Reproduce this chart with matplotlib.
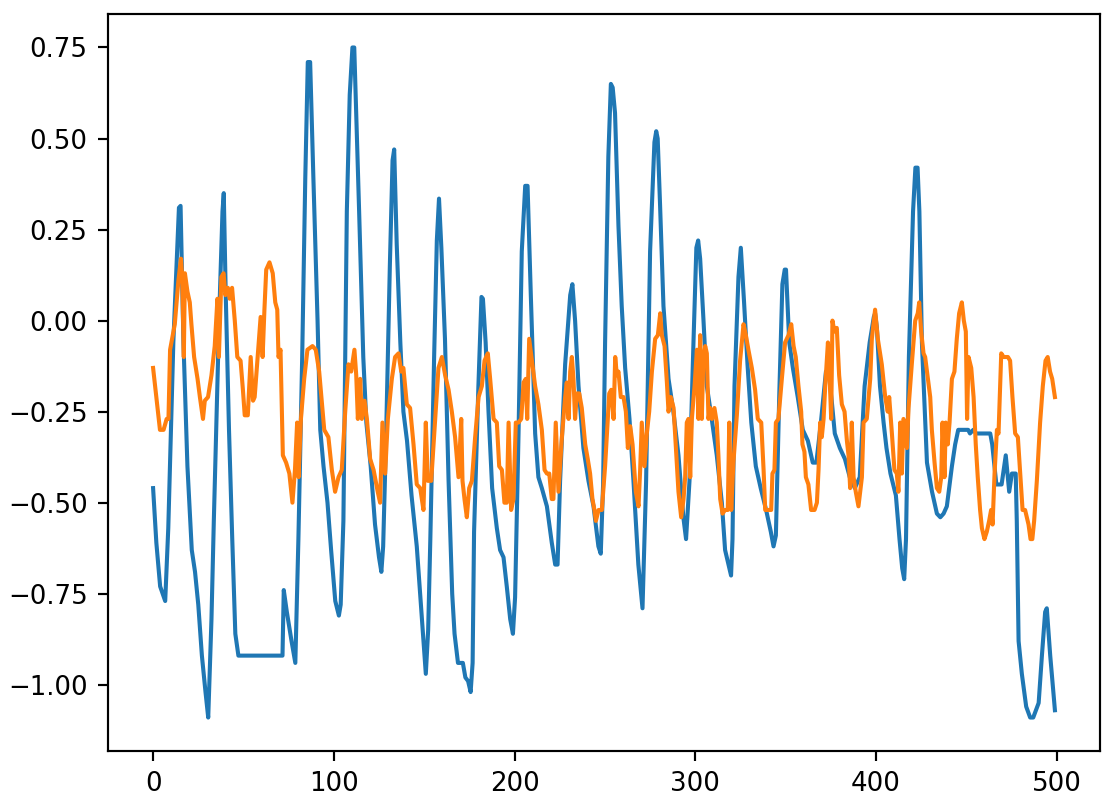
import matplotlib.pyplot as plt

blue_x = [0, 1.8, 3.9, 6.7, 8.4, 11.2, 14.3, 15.2, 16.8, 19, 21.4, 23.2, 25, 27, 29, 30.5, 32.3, 33.6, 36.5, 38.4,
          39.1, 40.2, 42, 43.8, 45.5, 47.2, 71.6, 72.3, 74, 76.6, 78.7, 80.4, 82.5, 84.2, 85.6, 86.9, 88.7, 91, 92.5,
          94.3, 96.5, 98.5, 100.8, 102.8, 103.8, 105.3, 107.2, 108.8, 110.3, 111.3, 112.5, 114, 116.3, 118, 120.4,
          122.8, 125, 126.3, 127.3, 129, 131, 132.5, 133.4, 134.8, 136.8, 138.5, 140.5, 143, 145.9, 148.3, 150.9,
          152.2, 153.4, 155.5, 157, 158.2, 159.5, 161.5, 163.5, 165.5, 166.8, 168.7, 171.4, 172.8, 174.3, 175.7,
          176.8, 177.6, 180, 181.7, 182.5, 184, 185.6, 187.6, 190.2, 192, 193.9, 195.7, 197.6, 199.1, 200.3, 202.2,
          204, 205.9, 207.2, 209, 211.4, 213.2, 215.1, 217.9, 220.6, 222.5, 223.8, 225.2, 228, 230.8, 232, 233.5,
          235.4, 238.1, 240.9, 243.7, 246.4, 247.7, 249, 250.1, 251.9, 253.3, 254.3, 255.6, 257.5, 259.3, 261.2,
          263.6, 265.8, 268.5, 270.8, 272.8, 275, 277.4, 278.4, 279.2, 280.5, 282.4, 285.2, 287.9, 290.7, 293.4,
          294.9, 296.8, 299, 300.6, 301.6, 302.7, 304.5, 306.4, 309.1, 311.9, 314.7, 316.5, 318.4, 319.8, 320.6,
          321.7, 323.9, 325.2, 327, 328.9, 331, 333.5, 336.2, 339.2, 341.8, 343.3, 344.6, 346.5, 348.2, 349.5,
          350.2, 352, 354, 356.7, 359.5, 362.3, 365, 367, 369.5, 372.3, 373.8, 375.5, 377.2, 380, 382.8, 385.5,
          388.3, 391, 393.7, 396.5, 398.8, 399.5, 400.5, 402.2, 404.2, 405.8, 408, 411, 413, 414.5, 415.6, 416.6,
          418.2, 420.5, 421.8, 423, 424, 425.4, 428.2, 431, 433.7, 435.6, 437.4, 439.2, 442, 443.8, 445.5, 451,
          452, 453.8, 455.5, 463.2, 464.3, 466.6, 469.5, 471.8, 473.7, 475.2, 477.3, 477.9, 478.9, 480.7, 483.1,
          485.3, 487, 490, 491.8, 493.6, 494.5, 496.4, 499]
blue_y = [-0.46, -0.61, -0.73, -0.77, -0.57, -0.06, 0.31, 0.315, -0.06, -0.40, -0.63, -0.69, -0.78, -0.92, -1.02,
          -1.09, -0.82, -0.55, 0.0, 0.30, 0.35, 0.07, -0.30, -0.60, -0.86, -0.92, -0.92, -0.74, -0.80, -0.88, -0.94,
          -0.60, -0.10, 0.39, 0.71, 0.71, 0.39, 0.0, -0.30, -0.40, -0.50, -0.63, -0.77, -0.81, -0.78, -0.55, 0.30,
          0.62, 0.75, 0.75, 0.55, 0.30, -0.10, -0.28, -0.40, -0.56, -0.65, -0.69, -0.62, -0.30, 0.15, 0.44, 0.47,
          0.21, -0.06, -0.25, -0.33, -0.48, -0.62, -0.79, -0.97, -0.85, -0.60, -0.10, 0.22, 0.335, 0.20, -0.05,
          -0.44, -0.75, -0.86, -0.94, -0.94, -0.98, -0.99, -1.02, -0.94, -0.58, -0.18, 0.065, 0.06, -0.06, -0.25,
          -0.46, -0.57, -0.63, -0.65, -0.73, -0.82, -0.86, -0.76, -0.31, 0.19, 0.37, 0.37, 0.07, -0.31, -0.43,
          -0.46, -0.51, -0.61, -0.67, -0.67, -0.44, -0.12, 0.07, 0.10, 0.0, -0.18, -0.35, -0.44, -0.51, -0.62,
          -0.64, -0.45, -0.06, 0.45, 0.65, 0.64, 0.57, 0.26, 0.04, -0.13, -0.27, -0.44, -0.67, -0.79, -0.44, 0.19,
          0.49, 0.52, 0.50, 0.32, 0.04, -0.16, -0.25, -0.37, -0.54, -0.60, -0.44, -0.06, 0.20, 0.22, 0.17, 0.005,
          -0.18, -0.27, -0.37, -0.50, -0.63, -0.67, -0.70, -0.60, -0.18, 0.12, 0.20, 0.05, -0.12, -0.28, -0.40,
          -0.46, -0.52, -0.58, -0.62, -0.59, -0.20, 0.10, 0.14, 0.14, -0.06, -0.13, -0.21, -0.30, -0.33, -0.39,
          -0.39, -0.28, -0.14, -0.14, -0.22, -0.31, -0.35, -0.38, -0.43, -0.46, -0.43, -0.18, -0.06, 0.01, 0.02,
          -0.02, -0.18, -0.28, -0.35, -0.42, -0.48, -0.60, -0.68, -0.71, -0.60, -0.10, 0.30, 0.42, 0.42, 0.30,
          -0.06, -0.39, -0.47, -0.53, -0.54, -0.53, -0.51, -0.40, -0.34, -0.30, -0.30, -0.31, -0.30, -0.31, -0.31,
          -0.34, -0.45, -0.45, -0.37, -0.47, -0.42, -0.42, -0.55, -0.88, -0.97, -1.06, -1.09, -1.09, -1.05, -0.92,
          -0.80, -0.79, -0.92, -1.07]

orange_x = [0, 2, 3.8, 5.8, 7.5, 8.5, 9.4, 12, 14, 15.4, 16.1, 17, 17.6, 19, 20.3, 21.2, 22.7, 24.6, 25.9, 27.6,
            28.6, 30.4, 32.3, 34.1, 35.6, 36.4, 37.8, 39, 40, 41.4, 42.4, 43.7, 45.2, 46.6, 48.4, 49.7, 50.7, 52.4,
            54, 55.3, 56.2, 58, 59.5, 60.6, 61.6, 62.6, 64.4, 66.2, 67.6, 68.7, 69.4, 70.5, 71.8, 73.6, 75.4, 77.1,
            78.5, 79.7, 80.5, 81.8, 83.6, 85.4, 88.2, 90, 91.9, 94.7, 97, 98.9, 100.7, 102.6, 104.4, 106.3, 108.1,
            109.6, 111.4, 112.4, 113.3, 114.6, 115.5, 117, 118.3, 120.1, 122, 124.3, 125.6, 126.9, 128.4, 129.9,
            132.1, 133.9, 135.8, 137.3, 138.5, 140.4, 142.2, 144.1, 145.9, 147.8, 149.6, 150.9, 152, 153.9, 156.1,
            157.9, 159.8, 161.6, 163.5, 165.3, 167.1, 169, 170.5, 171.2, 172.3, 173.6, 174.9, 176.4, 178.2, 180.1,
            181.9, 183.4, 185.2, 186.5, 188.4, 190.2, 191.5, 193, 194.4, 195.7, 196.7, 198.1, 199.4, 200.7, 202.2,
            203.7, 205, 206.2, 207, 208.1, 209.6, 211.4, 213.2, 215.1, 216.6, 217.9, 219.2, 220.6, 221.5, 222.8,
            224.3, 226.2, 228, 228.9, 229.9, 230.8, 231.7, 232.6, 233.5, 234.5, 235.8, 237.2, 239.1, 240.5, 241.8,
            243.1, 244.2, 245, 246.5, 248.3, 250.1, 251.6, 252.4, 253.5, 254.8, 255.7, 256.6, 257.5, 258.8, 260.3,
            261.6, 262.7, 264, 265.3, 267.1, 268.6, 269.5, 270.4, 271.9, 273.2, 274.5, 276, 277.8, 279.3, 280.6,
            281.5, 283, 284.3, 285.2, 286.5, 288, 289.2, 290.7, 292.2, 293.5, 294.4, 295.3, 296.2, 297.2, 298.1,
            299.6, 300.9, 301.8, 302.7, 303.6, 304.5, 305.5, 306.4, 307.3, 308.2, 309.2, 310.6, 311.9, 312.8, 313.8,
            315.1, 316.5, 318, 318.8, 319.9, 321.1, 323, 324.8, 326.7, 328, 329.4, 331.3, 333.1, 334.6, 336.5,
            337.8, 338.7, 340.5, 342, 342.7, 343.8, 344.6, 346, 347.9, 349.7, 351.6, 353.1, 354.4, 355.6, 357.1,
            358.6, 359.3, 360.4, 361.2, 362.6, 364.1, 366, 367.3, 368.2, 369.1, 370, 371, 371.9, 373.4, 374.1,
            375.2, 375.9, 377, 378.3, 379.6, 381.1, 382.6, 383.9, 384.8, 385.7, 386.6, 387.6, 388.8, 390.3, 392.2,
            393.1, 394.9, 396.8, 397.7, 399.5, 401, 403.2, 405.1, 406.5, 407.3, 408.8, 410.2, 411.5, 412.4, 413.4,
            414.3, 415.2, 416.1, 417.1, 418, 419.8, 421.7, 423.1, 423.9, 425, 426.3, 427.2, 428.7, 430, 430.9,
            432.4, 433.7, 435, 436.1, 436.8, 437.9, 438.6, 439.7, 440.7, 442, 443.4, 444.7, 446, 447.5, 448.6,
            449.7, 450.4, 451.2, 452.7, 454, 455.2, 456.3, 457.6, 458.6, 460, 461.3, 462.6, 463.7, 464.5, 465.6,
            466.9, 467.8, 469.3, 470.6, 471.5, 473, 474.2, 475.5, 477, 478.5, 479.8, 481.1, 482.5, 484.4, 485.5,
            486.5, 487.5, 489, 490.8, 492.3, 493.8, 495, 496.3, 497.5, 499]
orange_y = [-0.13, -0.22, -0.30, -0.30, -0.27, -0.27, -0.08, -0.01, 0.11, 0.17, 0.12, -0.10, 0.13, 0.08, 0.05,
            -0.01, -0.10, -0.16, -0.21, -0.27, -0.22, -0.21, -0.15, -0.07, 0.06, -0.10, 0.12, 0.13, 0.07, 0.09,
            0.06, 0.09, 0.0, -0.10, -0.11, -0.19, -0.26, -0.26, -0.10, -0.22, -0.21, -0.09, 0.01, -0.10, 0.03,
            0.14, 0.16, 0.13, 0.05, 0.03, -0.10, -0.08, -0.37, -0.39, -0.42, -0.50, -0.41, -0.28, -0.43, -0.27,
            -0.16, -0.08, -0.07, -0.08, -0.14, -0.30, -0.32, -0.41, -0.47, -0.43, -0.41, -0.25, -0.12, -0.14,
            -0.08, -0.15, -0.27, -0.16, -0.27, -0.22, -0.27, -0.38, -0.41, -0.47, -0.50, -0.28, -0.42, -0.27,
            -0.16, -0.10, -0.09, -0.14, -0.13, -0.23, -0.24, -0.34, -0.45, -0.46, -0.52, -0.28, -0.44, -0.44,
            -0.27, -0.13, -0.10, -0.15, -0.19, -0.25, -0.32, -0.43, -0.27, -0.44, -0.49, -0.54, -0.46, -0.44,
            -0.32, -0.21, -0.18, -0.11, -0.09, -0.16, -0.27, -0.28, -0.40, -0.41, -0.50, -0.50, -0.28, -0.52,
            -0.49, -0.28, -0.28, -0.27, -0.17, -0.16, -0.27, -0.05, -0.11, -0.18, -0.23, -0.30, -0.41, -0.42,
            -0.42, -0.49, -0.49, -0.28, -0.47, -0.32, -0.21, -0.17, -0.27, -0.14, -0.10, -0.16, -0.27, -0.20,
            -0.20, -0.24, -0.34, -0.38, -0.42, -0.49, -0.52, -0.55, -0.52, -0.52, -0.40, -0.27, -0.20, -0.19,
            -0.27, -0.10, -0.15, -0.14, -0.21, -0.21, -0.25, -0.35, -0.29, -0.34, -0.47, -0.51, -0.41, -0.28,
            -0.40, -0.31, -0.25, -0.14, -0.05, -0.04, 0.02, -0.04, -0.07, -0.17, -0.25, -0.21, -0.24, -0.34,
            -0.47, -0.54, -0.49, -0.43, -0.28, -0.27, -0.43, -0.27, -0.18, -0.08, -0.27, -0.04, -0.27, -0.10,
            -0.07, -0.09, -0.27, -0.24, -0.27, -0.24, -0.28, -0.37, -0.49, -0.53, -0.52, -0.52, -0.28, -0.52,
            -0.39, -0.26, -0.11, -0.01, -0.04, -0.08, -0.13, -0.19, -0.27, -0.28, -0.41, -0.52, -0.52, -0.52,
            -0.42, -0.41, -0.28, -0.27, -0.16, -0.06, -0.04, -0.01, -0.07, -0.10, -0.18, -0.25, -0.34, -0.36,
            -0.43, -0.45, -0.52, -0.52, -0.50, -0.41, -0.28, -0.32, -0.27, -0.18, -0.06, -0.12, -0.27, 0.0,
            -0.03, -0.02, -0.15, -0.23, -0.25, -0.33, -0.37, -0.46, -0.28, -0.43, -0.47, -0.51, -0.43, -0.28,
            -0.27, -0.16, -0.05, 0.03, -0.05, -0.12, -0.21, -0.25, -0.21, -0.31, -0.41, -0.42, -0.47, -0.28,
            -0.42, -0.27, -0.28, -0.35, -0.24, -0.12, 0.0, 0.02, 0.05, -0.03, -0.09, -0.10, -0.16, -0.21, -0.30,
            -0.39, -0.46, -0.47, -0.43, -0.28, -0.43, -0.28, -0.34, -0.28, -0.16, -0.14, -0.05, 0.02, 0.05, 0.0,
            -0.03, -0.27, -0.10, -0.13, -0.21, -0.34, -0.43, -0.52, -0.57, -0.60, -0.58, -0.55, -0.52, -0.56,
            -0.42, -0.30, -0.31, -0.09, -0.10, -0.10, -0.10, -0.11, -0.21, -0.31, -0.32, -0.42, -0.52, -0.52,
            -0.56, -0.60, -0.60, -0.55, -0.44, -0.28, -0.18, -0.11, -0.10, -0.14, -0.16, -0.21]

dpi = 173
fig = plt.figure(figsize=(1110 / dpi, 808 / dpi), dpi=dpi)
ax = fig.add_axes([0.0973, 0.0705, 0.8937, 0.9122])
ax.plot(blue_x, blue_y, linewidth=1.7)
ax.plot(orange_x, orange_y, linewidth=1.7)
ax.tick_params(labelsize=10.8, length=4, width=0.9, pad=4.5)
for s in ax.spines.values():
    s.set_linewidth(0.9)
fig.savefig("out.png", dpi=dpi)
